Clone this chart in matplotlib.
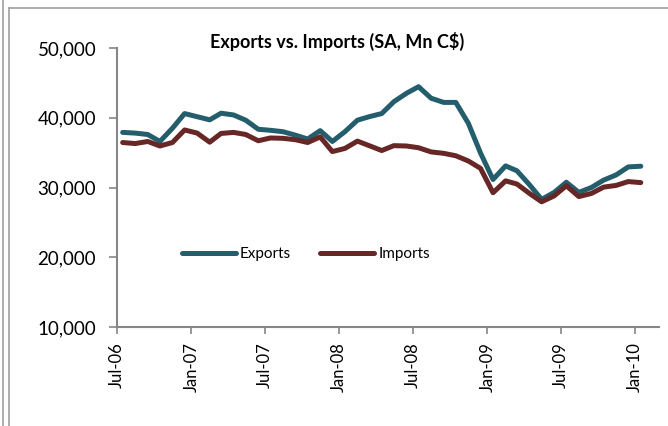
import matplotlib
matplotlib.use("Agg")
import matplotlib.pyplot as plt
import matplotlib.dates as mdates
from matplotlib.lines import Line2D
import pandas as pd

plt.rcParams["font.family"] = ["Lato", "DejaVu Sans"]

# monthly data, Jul-06 .. Jan-10 (plotted mid-month like the Excel date axis)
months = pd.date_range("2006-07-01", periods=43, freq="MS") + pd.Timedelta(days=14)
exports = [37900, 37800, 37600, 36600, 38500, 40600, 40150, 39700, 40650, 40400,
           39650, 38350, 38200, 38000, 37500, 36950, 38150, 36600, 38000, 39650,
           40150, 40600, 42300, 43500, 44450, 42800, 42200, 42200, 39200, 34950,
           31150, 33100, 32400, 30400, 28300, 29300, 30750, 29300, 30000, 31050,
           31800, 32950, 33050]
imports = [36450, 36300, 36600, 35950, 36450, 38250, 37800, 36500, 37750, 37900,
           37600, 36700, 37100, 37050, 36850, 36450, 37250, 35150, 35600, 36650,
           36000, 35300, 36000, 35950, 35700, 35100, 34900, 34550, 33800, 32750,
           29250, 30950, 30500, 29150, 27950, 28800, 30250, 28700, 29150, 30050,
           30300, 30850, 30700]
tick_dates = pd.date_range("2006-07-01", "2010-01-01", freq="6MS")
yticks = [10000, 20000, 30000, 40000, 50000]

W, H = 668, 426
fig = plt.figure(figsize=(W / 100, H / 100), dpi=100)
ax = fig.add_axes([117 / W, 1 - 327 / H, (659 - 117) / W, (327 - 48) / H])

exp_color = "#245e6c"
imp_color = "#662726"
ax.plot(months, exports, color=exp_color, lw=3.6, solid_capstyle="round",
        solid_joinstyle="round", label="Exports")
ax.plot(months, imports, color=imp_color, lw=3.6, solid_capstyle="round",
        solid_joinstyle="round", label="Imports")

ax.set_xlim(pd.Timestamp("2006-07-01"), pd.Timestamp("2010-03-01"))
ax.set_ylim(10000, 50000)
ax.set_yticks(yticks)
ax.set_yticklabels([f"{v:,}" for v in yticks], fontsize=13.5)
ax.set_xticks(tick_dates)
ax.xaxis.set_major_formatter(mdates.DateFormatter("%b-%y"))
plt.setp(ax.get_xticklabels(), rotation=90, fontsize=12)

for s in ["top", "right"]:
    ax.spines[s].set_visible(False)
for s in ["left", "bottom"]:
    ax.spines[s].set_color("#868686")
    ax.spines[s].set_linewidth(1.5)
ax.tick_params(axis="y", length=6, width=1.2, color="#868686", pad=9)
ax.tick_params(axis="x", length=5, width=1.2, color="#868686", pad=6)

leg = fig.legend(loc="center", bbox_to_anchor=(306 / W, 1 - 254 / H), ncol=2,
                 frameon=False, fontsize=11, handlelength=3.5,
                 handletextpad=0.3, columnspacing=1.9)

fig.text(337 / W, 1 - 41 / H, "Exports vs. Imports (SA, Mn C$)",
         ha="center", va="center", fontsize=13, fontweight="bold")

# chart frame
frame = "#a0a0a0"
fig.add_artist(Line2D([3 / W, 3 / W], [0, 1], transform=fig.transFigure, color=frame, lw=1.2))
fig.add_artist(Line2D([9 / W, 9 / W], [0, 1 - 8 / H], transform=fig.transFigure, color=frame, lw=1.2))
fig.add_artist(Line2D([9 / W, 1], [1 - 8 / H, 1 - 8 / H], transform=fig.transFigure, color=frame, lw=1.2))

fig.savefig("out.png", dpi=100)
